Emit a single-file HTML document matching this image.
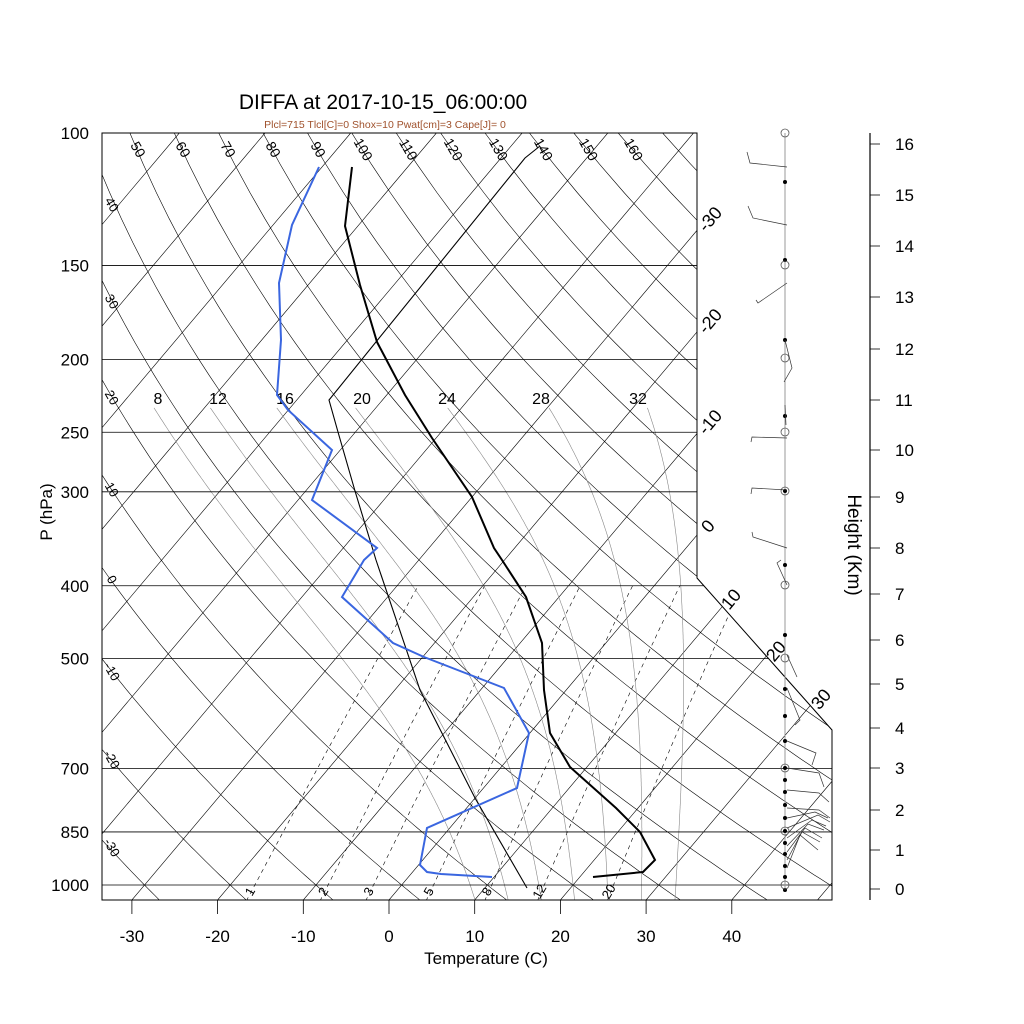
<!DOCTYPE html>
<html><head><meta charset="utf-8"><style>
html,body{margin:0;padding:0;background:#fff;}
svg{display:block;font-family:"Liberation Sans",Arial,sans-serif;}
</style></head><body>
<svg id="s" width="1024" height="1024" viewBox="0 0 1024 1024" xmlns="http://www.w3.org/2000/svg">
<defs><clipPath id="cp"><polygon points="102,133 697,133 697,578 832,730 832,900 102,900"/></clipPath></defs>
<rect width="1024" height="1024" fill="#fff"/>
<g id="bg" clip-path="url(#cp)"></g>
<g id="fg"></g>
<text x="383" y="109" font-size="21" text-anchor="middle">DIFFA at 2017-10-15_06:00:00</text>
<text x="385" y="128" font-size="10.5" text-anchor="middle" fill="#a0522d">Plcl=715 Tlcl[C]=0 Shox=10 Pwat[cm]=3 Cape[J]= 0</text>
<text x="486" y="964" font-size="17" text-anchor="middle">Temperature (C)</text>
<text transform="translate(52,512) rotate(-90)" font-size="17" text-anchor="middle">P (hPa)</text>
<text transform="translate(848,545) rotate(90)" font-size="19" text-anchor="middle">Height (Km)</text>
</svg>
<script>
(function(){
var NS="http://www.w3.org/2000/svg";
var bg=document.getElementById('bg'),fg=document.getElementById('fg');
function el(tag,attrs,parent,txt){var e=document.createElementNS(NS,tag);for(var k in attrs)e.setAttribute(k,attrs[k]);if(txt!==undefined)e.textContent=txt;(parent||fg).appendChild(e);return e;}
function Y(p){return 133+326.6*Math.log(p/100);}
function X(T,y){return 389+8.57*T+0.844*(900-y);}
function poly(pts,attrs,parent){attrs.points=pts.map(function(a){return a[0].toFixed(1)+','+a[1].toFixed(1);}).join(' ');attrs.fill='none';return el('polyline',attrs,parent);}
for(var T=-130;T<=50;T+=10){poly([[X(T,900),900],[X(T,133),133]],{stroke:'#000','stroke-width':0.6},bg);}
for(var th=-30;th<=170;th+=10){var pts=[];for(var p=1050;p>=100;p-=10){var Tk=(th+273.15)*Math.pow(p/1000,0.2857)-273.15;var y=Y(p);pts.push([X(Tk,y),y]);}poly(pts,{stroke:'#000','stroke-width':0.6},bg);}
[100,150,200,250,300,400,500,700,850,1000].forEach(function(p){var y=Y(p);var xr=y<578?697:(y<730?697+(y-578)*135/152:832);el('line',{x1:102,y1:y,x2:xr,y2:y,stroke:'#000','stroke-width':0.8},fg);
 el('text',{x:89,y:y+6,'font-size':17,'text-anchor':'end'},fg,String(p));});
function esat(T){return 6.112*Math.exp(17.67*T/(T+243.5));}
function tdew(e){var l=Math.log(e/6.112);return 243.5*l/(17.67-l);}
[1,2,3,5,8,12,20].forEach(function(w){var pts=[];for(var p=1050;p>=400;p-=10){var e=w*p/(622+w);var Td=tdew(e);var y=Y(p);pts.push([X(Td,y),y]);}
 poly(pts,{stroke:'#000','stroke-width':0.6,'stroke-dasharray':'4,4'},bg);
 var e2=w*1000/(622+w),xx=X(tdew(e2),885)-4;
 el('text',{transform:'translate('+xx+',892) rotate(-60)','font-size':13,'text-anchor':'middle','dominant-baseline':'middle'},fg,String(w));});
var Rd=287.04,cp=1005.7,Lv=2.501e6;
function dTdp(T,p){var Tk=T+273.15;var rs=0.622*esat(T)/(p-esat(T));return (1/p)*(Rd*Tk+Lv*rs)/(cp+Lv*Lv*rs*0.622/(Rd*Tk*Tk));}
var mlx={8:158,12:218,16:285,20:362,24:447,28:541,32:638};
[8,12,16,20,24,28,32].forEach(function(tw){var pts=[];var Td=tw;for(var pp=1000;pp<1050;pp+=2){Td+=dTdp(Td,pp)*2;}
 pts.push([X(Td,Y(1050)),Y(1050)]);
 var T=tw,p=1000;pts.push([X(T,Y(p)),Y(p)]);
 while(p>232){var h=-2;var k1=dTdp(T,p),k2=dTdp(T+k1*h/2,p+h/2),k3=dTdp(T+k2*h/2,p+h/2),k4=dTdp(T+k3*h,p+h);T+=h*(k1+2*k2+2*k3+k4)/6;p+=h;var y=Y(p);pts.push([X(T,y),y]);}
 poly(pts,{stroke:'#888','stroke-width':0.6},bg);
 el('text',{x:mlx[tw],y:404,'font-size':16,'text-anchor':'middle'},fg,String(tw));});
el('polygon',{points:'102,133 697,133 697,578 832,730 832,900 102,900',fill:'none',stroke:'#000','stroke-width':1},fg);
[-30,-20,-10,0,10,20,30,40].forEach(function(t){var x=389+8.57*t;el('line',{x1:x,y1:900,x2:x,y2:914,stroke:'#000','stroke-width':0.8},fg);el('text',{x:x,y:942,'font-size':17,'text-anchor':'middle'},fg,String(t));});
function thX(th,y){var p=100*Math.exp((y-133)/326.6);return X((th+273.15)*Math.pow(p/1000,0.2857)-273.15,y);}
for(var th=50;th<=160;th+=10){var xx=thX(th,150);el('text',{transform:'translate('+xx+',150) rotate(60)','font-size':14,'text-anchor':'middle','dominant-baseline':'middle'},fg,String(th));}
var lefty={40:205,30:302,20:398,10:490,0:580,'-10':672,'-20':760,'-30':848};
for(var k in lefty){el('text',{transform:'translate(111,'+lefty[k]+') rotate(60)','font-size':13,'text-anchor':'middle','dominant-baseline':'middle'},fg,String(k));}
[[-30,711,220],[-20,711,322],[-10,711,423],[0,709,527],[10,732,600],[20,777,652],[30,822,700]].forEach(function(a){el('text',{transform:'translate('+a[1]+','+a[2]+') rotate(-50)','font-size':18,'text-anchor':'middle','dominant-baseline':'middle'},fg,String(a[0]));});
poly([[527,888],[475,798],[420,690],[376,560],[355,491],[338,432],[329,400],[525,158],[540,146]],{stroke:'#000','stroke-width':1.1},fg);
poly([[352,167],[345,226],[360,285],[377,342],[405,395],[432,438],[472,497],[494,548],[502,560],[526,597],[542,643],[544,690],[550,733],[570,767],[616,808],[640,832],[655,860],[643,872],[593,877]],{stroke:'#000','stroke-width':2},fg);
poly([[319,167],[292,225],[279,283],[281,340],[277,395],[288,410],[332,450],[312,500],[377,548],[364,560],[342,597],[393,643],[424,657],[504,688],[529,733],[517,788],[427,828],[420,865],[427,872],[441,874],[492,877]],{stroke:'#3a66e0','stroke-width':2},fg);
el('line',{x1:785,y1:133,x2:785,y2:890,stroke:'#999','stroke-width':1},fg);
[182,260,340,416,491,565,635,689,716,741,768,780,792,805,818,831,843,854,866,877,890].forEach(function(y){el('circle',{cx:785,cy:y,r:2,fill:'#000'},fg);});
[133,265,358,432,491,585,658,768,831,885].forEach(function(y){el('circle',{cx:785,cy:y,r:4,fill:'none',stroke:'#555','stroke-width':0.8},fg);});
var barbs=[
[[787,167],[750,163],[747,152]],[[787,225],[753,218],[748,206]],[[787,283],[758,303],[756,300]],
[[785,340],[792,368],[784,382]],[[785,405],[786,425]],[[787,438],[752,437],[751,442]],[[787,490],[752,488],[751,494]],
[[787,548],[753,537],[752,532]],[[787,585],[777,563],[781,560]],[[787,655],[797,677]],[[787,688],[800,720],[795,725]],
[[787,741],[816,753],[812,765]],[[787,768],[819,773],[824,787]],[[787,790],[819,793],[829,802]],[[787,808],[819,810],[830,818]],
[[787,818],[815,812],[828,818]],[[787,828],[818,815],[830,822]],[[787,838],[812,820],[826,826]],[[787,846],[808,824],[824,830]],
[[787,852],[805,828],[822,838]],[[787,860],[802,832],[820,842]],[[787,868],[800,835],[818,850]]];
barbs.forEach(function(b){poly(b,{stroke:'#333','stroke-width':0.7},fg);});
el('line',{x1:870,y1:133,x2:870,y2:900,stroke:'#000','stroke-width':1.2},fg);
var hy=[889,850,810,768,728,684,640,594,548,497,450,400,349,297,246,195,144];
for(var k=0;k<=16;k++){var y=hy[k];el('line',{x1:870,y1:y,x2:880,y2:y,stroke:'#000','stroke-width':0.8},fg);el('text',{x:895,y:y+6,'font-size':17},fg,String(k));}
})();
</script>
</body></html>
